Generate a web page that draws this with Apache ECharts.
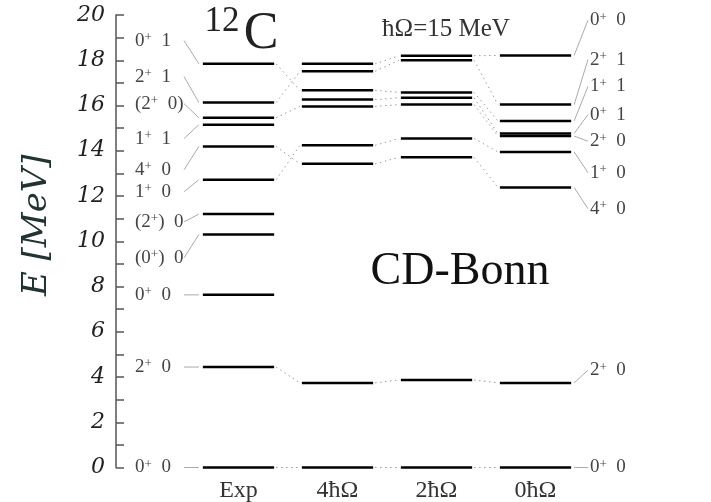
<!DOCTYPE html>
<html>
<head>
<meta charset="utf-8">
<script src="https://cdn.jsdelivr.net/npm/echarts@6/dist/echarts.min.js"></script>
<style>
html, body { margin: 0; padding: 0; background: #fff; }
#chart { width: 711px; height: 502px; }
</style>
</head>
<body>
<div id="chart"></div>
<script>
'use strict';
// columns of the level scheme
var columns = ['Exp', '4ħΩ', '2ħΩ', '0ħΩ'];

// level energies (MeV) per column
var expLevels = [0, 4.44, 7.63, 10.3, 11.2, 12.72, 14.19, 15.15, 15.46, 16.13, 17.84];
var n4Levels = [0, 3.74, 13.42, 14.24, 15.96, 16.26, 16.67, 17.51, 17.84];
var n2Levels = [0, 3.87, 13.71, 14.54, 16.04, 16.34, 16.58, 18.0, 18.2];
var n0Levels = [0, 3.74, 12.38, 13.95, 14.65, 14.76, 15.32, 16.04, 18.21];

// experimental labels (left) and where the text sits
var expLabels = ['0+ 0', '2+ 0', '0+ 0', '(0+) 0', '(2+) 0', '1+ 0', '4+ 0', '1+ 1', '(2+ 0)', '2+ 1', '0+ 1'];
var expLabelPos = [0, 4.44, 7.63, 9.27, 10.86, 12.19, 13.16, 14.54, 16.08, 17.28, 18.87];

// 0hw labels (right)
var n0Labels = ['0+ 0', '2+ 0', '4+ 0', '1+ 0', '2+ 0', '0+ 1', '1+ 1', '2+ 1', '0+ 0'];
var n0LabelPos = [0, 4.3, 11.44, 13.03, 14.42, 15.6, 16.84, 18.03, 19.77];

// dotted correspondences between neighbouring columns [from, to]
var linksExp4 = [[0, 0], [4.44, 3.74], [17.84, 16.67], [16.13, 17.51], [15.46, 15.96], [14.19, 13.42], [12.72, 14.24]];
var links42 = [[0, 0], [3.74, 3.87], [17.84, 18.2], [17.51, 18.0], [16.67, 16.58], [16.26, 16.34], [15.96, 16.04], [14.24, 14.54], [13.42, 13.71]];
var links20 = [[0, 0], [3.87, 3.74], [18.2, 18.21], [18.0, 16.04], [16.58, 15.32], [16.34, 14.76], [16.04, 14.65], [14.54, 13.95], [13.71, 12.38]];

var HW = 0.36;       // half width of a level bar (column units)
var LABEL_FONT = '19px "Liberation Serif", "Times New Roman", serif';
var SUP_RICH = { s: { fontSize: 13, verticalAlign: 'top', fill: '#444', fontFamily: 'Liberation Serif' } };

function sup(t) {
	return t.replace(/\+/g, '{s|+}').replace(/ /g, '  ');
}

var levelData = [];
[expLevels, n4Levels, n2Levels, n0Levels].forEach(function (arr, c) {
	arr.forEach(function (e) { levelData.push([c, e]); });
});

var linkData = [];
[linksExp4, links42, links20].forEach(function (arr, c) {
	arr.forEach(function (p) { linkData.push([c, p[0], p[1]]); });
});

var myChart = echarts.init(document.getElementById('chart'));
var option = {
	animation: false,
	grid: { left: 116, right: 0, top: 15, bottom: 34.5 },
	xAxis: {
		type: 'value',
		min: -1.2374,
		max: 4.7727,
		show: false
	},
	yAxis: {
		type: 'value',
		min: 0,
		max: 20,
		interval: 1,
		name: 'E [MeV]',
		nameLocation: 'middle',
		nameGap: 62,
		nameRotate: 90,
		nameTextStyle: {
			fontFamily: 'DejaVu Serif',
			fontStyle: 'italic',
			fontSize: 34,
			color: '#233',
			padding: [0, 0, 0, 32]
		},
		axisLine: { show: true, onZero: false, lineStyle: { color: '#555', width: 1.5 } },
		axisTick: { show: true, inside: true, length: 8, lineStyle: { color: '#555', width: 1.5 } },
		axisLabel: {
			formatter: function (v) { return v % 2 === 0 ? String(v) : ''; },
			fontFamily: 'DejaVu Serif',
			fontStyle: 'italic',
			fontSize: 22,
			color: '#222',
			margin: 11
		},
		splitLine: { show: false }
	},
	graphic: [
		{ type: 'text', x: 222, y: 22, style: { text: '12', font: '35px "Liberation Serif", serif', fill: '#222', align: 'center', verticalAlign: 'middle' } },
		{ type: 'text', x: 261, y: 34, style: { text: 'C', font: '52px "Liberation Serif", serif', fill: '#222', align: 'center', verticalAlign: 'middle' } },
		{ type: 'text', x: 446, y: 29, style: { text: 'ħΩ=15 MeV', font: '25px "Liberation Serif", serif', fill: '#333', align: 'center', verticalAlign: 'middle' } },
		{ type: 'text', x: 460, y: 272, style: { text: 'CD-Bonn', font: '46px "Liberation Serif", serif', fill: '#111', align: 'center', verticalAlign: 'middle' } }
	],
	series: [
		{
			// dotted correspondence lines
			type: 'custom',
			data: linkData,
			renderItem: function (params, api) {
				var c = api.value(0);
				var a = api.coord([c + HW + 0.02, api.value(1)]);
				var b = api.coord([c + 1 - HW - 0.02, api.value(2)]);
				return {
					type: 'line',
					shape: { x1: a[0], y1: a[1], x2: b[0], y2: b[1] },
					style: { stroke: '#9a9a9a', lineWidth: 1, lineDash: [1.5, 3.5] }
				};
			}
		},
		{
			// experimental labels with connectors
			type: 'custom',
			data: expLevels.map(function (e, i) { return [e, expLabelPos[i]]; }),
			renderItem: function (params, api) {
				var lv = api.value(0), lp = api.value(1);
				var txt = api.coord([-1.045, lp]);
				var a = api.coord([-0.55, lp]);
				var b = api.coord([-HW - 0.04, lv]);
				return {
					type: 'group',
					children: [
						{ type: 'line', shape: { x1: a[0], y1: a[1], x2: b[0], y2: b[1] }, style: { stroke: '#aaa', lineWidth: 1 } },
						{ type: 'text', x: txt[0], y: txt[1], style: { text: sup(expLabels[params.dataIndex]), font: LABEL_FONT, fill: '#444', align: 'left', verticalAlign: 'middle', rich: SUP_RICH } }
					]
				};
			}
		},
		{
			// 0hw labels with connectors
			type: 'custom',
			data: n0Levels.map(function (e, i) { return [e, n0LabelPos[i]]; }),
			renderItem: function (params, api) {
				var lv = api.value(0), lp = api.value(1);
				var a = api.coord([3 + HW + 0.03, lv]);
				var b = api.coord([3.53, lp]);
				var txt = api.coord([3.55, lp]);
				return {
					type: 'group',
					children: [
						{ type: 'line', shape: { x1: a[0], y1: a[1], x2: b[0], y2: b[1] }, style: { stroke: '#aaa', lineWidth: 1 } },
						{ type: 'text', x: txt[0], y: txt[1], style: { text: sup(n0Labels[params.dataIndex]), font: LABEL_FONT, fill: '#444', align: 'left', verticalAlign: 'middle', rich: SUP_RICH } }
					]
				};
			}
		},
		{
			// energy levels
			type: 'custom',
			data: levelData,
			renderItem: function (params, api) {
				var c = api.value(0), e = api.value(1);
				var a = api.coord([c - HW, e]);
				var b = api.coord([c + HW, e]);
				return {
					type: 'line',
					shape: { x1: a[0], y1: a[1], x2: b[0], y2: b[1] },
					style: { stroke: '#000', lineWidth: 2.5 }
				};
			}
		},
		{
			// column names under the scheme
			type: 'custom',
			data: columns.map(function (n, i) { return [i, 0]; }),
			clip: false,
			renderItem: function (params, api) {
				var p = api.coord([api.value(0), 0]);
				return {
					type: 'text',
					x: p[0],
					y: p[1] + 11,
					style: { text: columns[params.dataIndex], font: '24px "Liberation Serif", serif', fill: '#333', align: 'center', verticalAlign: 'top' }
				};
			}
		}
	]
};
myChart.setOption(option);
</script>
</body>
</html>
